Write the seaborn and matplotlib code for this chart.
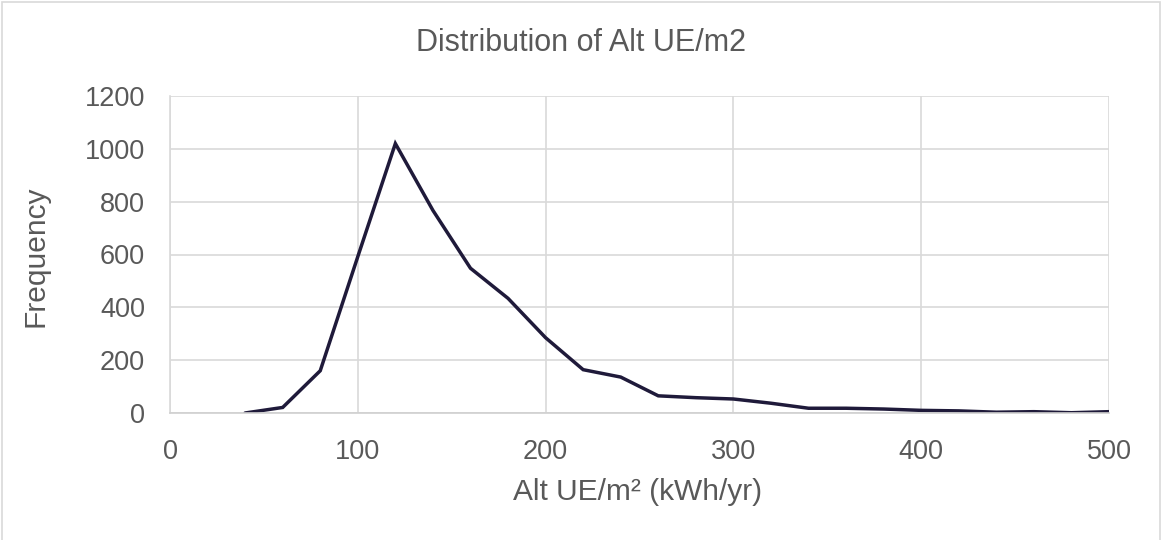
import matplotlib
matplotlib.use("Agg")
import matplotlib.pyplot as plt
import seaborn as sns
import pandas as pd
from matplotlib.patches import Rectangle

bins = [40, 60, 80, 100, 120, 140, 160, 180, 200, 220, 240, 260, 280, 300,
        320, 340, 360, 380, 400, 420, 440, 460, 480, 500]
freq = [0, 21, 160, 592, 1020, 767, 548, 434, 285, 164, 136, 65, 58, 53,
        37, 18, 18, 15, 10, 8, 3, 5, 1, 5]
x_ticks = [0, 100, 200, 300, 400, 500]
y_ticks = [0, 200, 400, 600, 800, 1000, 1200]
title = "Distribution of Alt UE/m2"
xlabel = "Alt UE/m² (kWh/yr)"
ylabel = "Frequency"

sns.set_theme(style="white")
plt.rcParams['font.family'] = ['Liberation Sans', 'DejaVu Sans']

df = pd.DataFrame({"x": bins, "y": freq})

W, H = 1163, 540
fig = plt.figure(figsize=(W / 100, H / 100), dpi=100)
x0, x1, y0, y1 = 170, 1109, 413, 96
ax = fig.add_axes([x0 / W, 1 - y0 / H, (x1 - x0) / W, (y0 - y1) / H])

text_col = "#595959"
sns.lineplot(data=df, x="x", y="y", ax=ax, color="#1f1a3a", linewidth=2.5,
             solid_joinstyle="miter")

ax.set_xlim(0, 500)
ax.set_ylim(0, 1200)
ax.set_xticks(x_ticks)
ax.set_yticks(y_ticks)
ax.grid(True, color="#d9d9d9", linewidth=1.2)
for s in ["top", "right"]:
    ax.spines[s].set_visible(False)
ax.spines["left"].set_color("#d9d9d9")
ax.spines["bottom"].set_color("#d0d0d0")
ax.spines["left"].set_linewidth(1.2)
ax.spines["bottom"].set_linewidth(1.2)
ax.set_axisbelow(True)
ax.tick_params(axis="both", length=0, labelsize=19.5, labelcolor=text_col)
ax.tick_params(axis="y", pad=18)
ax.tick_params(axis="x", pad=19)

ax.set_xlabel(xlabel, fontsize=21.5, color=text_col, va="center")
ax.set_ylabel(ylabel, fontsize=21.5, color=text_col, va="center")
ax.xaxis.set_label_coords((638 - x0) / (x1 - x0), (y0 - 492) / (y0 - y1))
ax.yaxis.set_label_coords((35 - x0) / (x1 - x0), (y0 - 256) / (y0 - y1))
fig.text((411 + 750) / 2 / W, 1 - 43 / H, title, ha="center", va="center",
         fontsize=22, color=text_col)

fig.patches.append(Rectangle((2 / W, -0.1), (W - 5) / W, 1.1 - 2 / H,
                             transform=fig.transFigure, fill=False,
                             edgecolor="#d9d9d9", linewidth=1.2))

fig.savefig("out.png", dpi=100)
